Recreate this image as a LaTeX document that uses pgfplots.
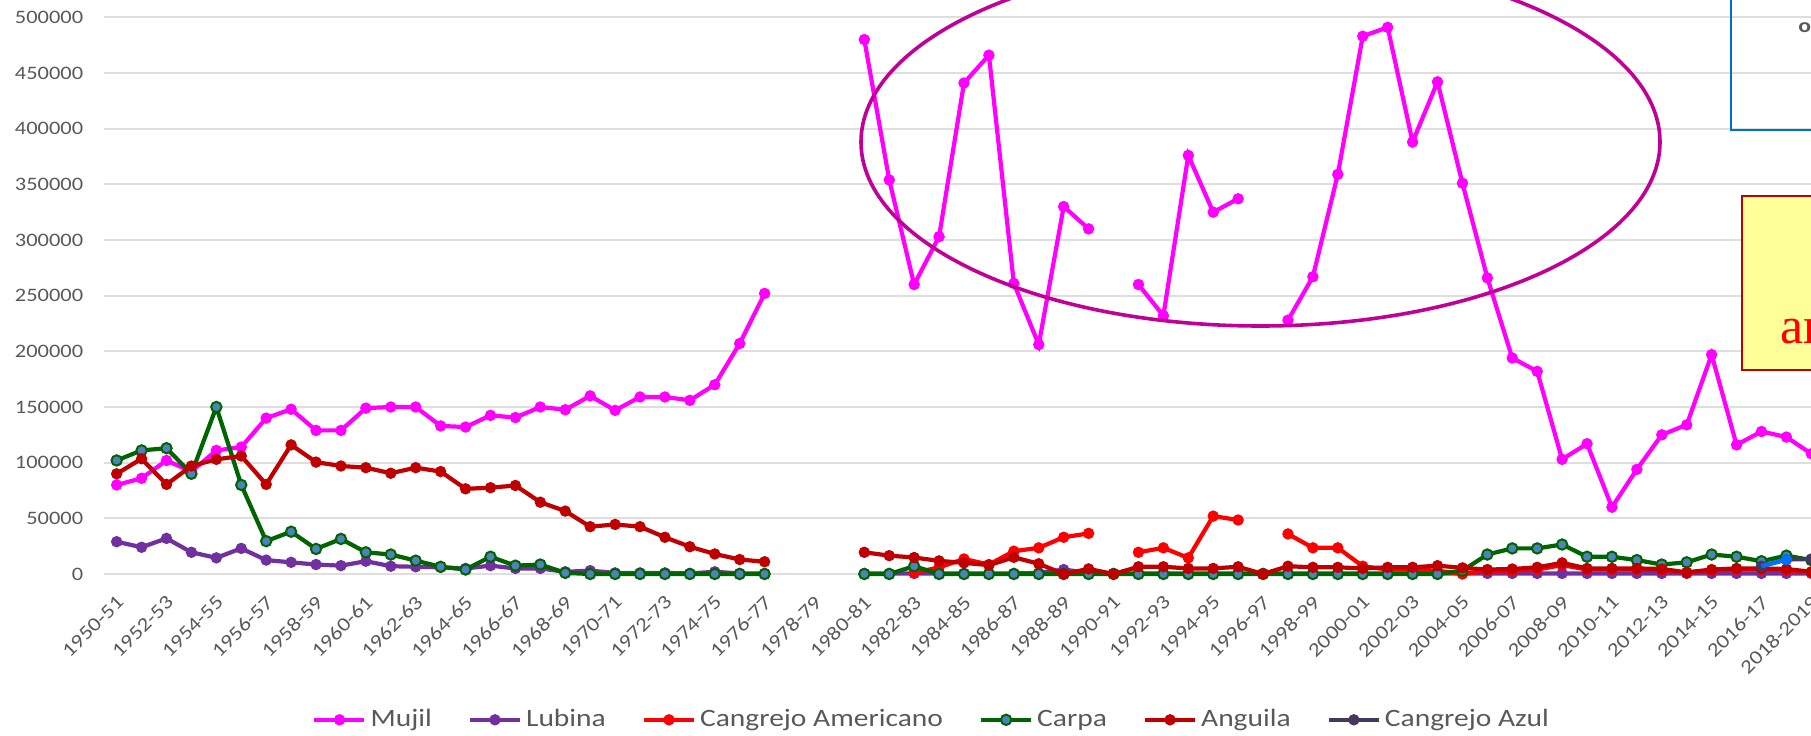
\documentclass[border=0pt]{standalone}
\usepackage{fontspec}
\setmainfont{Carlito}[FakeStretch=1.18]
\newfontfamily\serifred{Liberation Serif}
\usepackage{pgfplots}
\usepackage{pgfplotstable}
\pgfplotsset{compat=1.18}

\definecolor{mujil}{RGB}{255,0,255}
\definecolor{lubina}{RGB}{112,48,160}
\definecolor{camer}{RGB}{255,0,0}
\definecolor{carpa}{RGB}{0,100,0}
\definecolor{carpamk}{RGB}{79,129,189}
\definecolor{anguila}{RGB}{192,0,0}
\definecolor{azul}{RGB}{70,55,95}
\definecolor{azulb}{RGB}{0,112,255}
\definecolor{ell}{RGB}{192,0,150}
\definecolor{tickgray}{RGB}{89,89,89}
\definecolor{boxblue}{RGB}{0,112,192}
\definecolor{boxyellow}{RGB}{255,255,153}

\pgfplotstableread{
x mujil lubina camer carpa anguila azul
0 80000 29000 nan 102000 90000 nan
1 86000 24000 nan 111000 103500 nan
2 102000 32000 nan 113000 80500 nan
3 92000 19500 nan 90000 97000 nan
4 111000 14500 nan 150000 103000 nan
5 114000 23000 nan 80000 106000 nan
6 140000 12500 nan 29500 80500 nan
7 148000 10500 nan 38000 116000 nan
8 129000 8500 nan 22500 100500 nan
9 129000 7500 nan 31500 97000 nan
10 149000 11500 nan 19500 95500 nan
11 150000 7000 nan 17500 90500 nan
12 150000 6500 nan 12000 95500 nan
13 133000 6000 nan 6500 92000 nan
14 132000 5000 nan 4000 76500 nan
15 142500 7500 nan 15500 77500 nan
16 140500 5000 nan 7500 79500 nan
17 150000 5000 nan 8500 64500 nan
18 147500 2000 nan 1000 56500 nan
19 160000 3000 nan 0 42500 nan
20 147000 1000 nan 0 44500 nan
21 159000 1000 nan 0 42500 nan
22 159000 1000 nan 0 33000 nan
23 156000 500 nan 0 24500 nan
24 170000 2000 nan 0 18000 nan
25 207000 500 nan 0 13000 nan
26 252000 500 nan 0 11000 nan
27 nan nan nan nan nan nan
28 nan nan nan nan nan nan
29 nan nan nan nan nan nan
30 480000 500 nan 0 19500 nan
31 354000 500 nan 0 16500 nan
32 260000 500 1000 7000 14800 nan
33 303000 500 6000 0 11800 nan
34 441000 500 13500 0 10000 nan
35 466000 500 8500 0 8000 nan
36 261000 500 20500 0 15000 nan
37 206000 1000 23500 0 9200 nan
38 330000 4000 33000 0 0 nan
39 310000 1000 36500 0 4600 nan
40 nan 500 nan 0 0 nan
41 260000 500 19500 0 6500 nan
42 232000 500 23500 0 6500 nan
43 376000 500 14500 0 5000 nan
44 325000 500 52000 0 5000 nan
45 337000 500 48500 0 6500 nan
46 nan 500 nan 0 0 nan
47 228000 500 36000 0 7000 nan
48 267000 500 23500 0 6000 nan
49 359000 500 23500 0 6000 nan
50 483000 500 7000 0 5000 nan
51 491000 500 4000 0 6000 nan
52 388000 500 4000 0 6000 nan
53 442000 500 3000 0 7500 nan
54 351000 500 0 3000 5500 nan
55 266000 500 3000 17500 4000 nan
56 194000 500 3000 23000 4500 nan
57 182000 500 4000 23000 6000 nan
58 103000 500 8000 26500 10000 nan
59 117000 500 4000 15500 5000 nan
60 60000 500 4000 15500 5000 nan
61 94000 500 4000 12500 5000 nan
62 125000 500 3500 8500 4500 nan
63 134000 500 1000 10500 1500 nan
64 197000 500 3000 17500 4000 nan
65 116000 500 4000 15500 5000 nan
66 128000 500 4000 11500 5000 7000
67 123000 500 3500 16500 4500 13000
68 108000 500 1500 12500 2000 13500
}\data

\begin{document}
\begin{tikzpicture}
\begin{axis}[
  at={(52.1pt,72.5pt)}, anchor=south west,
  scale only axis, width=853.55pt, height=295pt,
  xmin=-0.5, xmax=68, ymin=-14370, ymax=515540,
  axis line style={draw=none}, tick style={draw=none},
  major tick length=0pt,
  ymajorgrids, major grid style={color=black!13, line width=1pt},
  ytick={0,50000,100000,150000,200000,250000,300000,350000,400000,450000,500000},
  yticklabels={0,50000,100000,150000,200000,250000,300000,350000,400000,450000,500000},
  xtick={0,2,...,68},
  xticklabels={1950-51,1952-53,1954-55,1956-57,1958-59,1960-61,1962-63,1964-65,1966-67,1968-69,1970-71,1972-73,1974-75,1976-77,1978-79,1980-81,1982-83,1984-85,1986-87,1988-89,1990-91,1992-93,1994-95,1996-97,1998-99,2000-01,2002-03,2004-05,2006-07,2008-09,2010-11,2012-13,2014-15,2016-17,2018-2019},
  /pgf/number format/assume math mode=true,
  xticklabel style={rotate=45, anchor=east, font=\fontsize{9.8}{10}\selectfont, text=tickgray, yshift=-4.5pt, xshift=1.5pt},
  yticklabel style={font=\fontsize{9.5}{10}\selectfont, text=tickgray, xshift=-7pt},
  unbounded coords=jump,
  clip mode=individual,
  legend columns=-1,
  legend style={at={(0.4853,-0.2200)}, anchor=center, draw=none, fill=none,
    font=\fontsize{12.5}{14}\selectfont, text=tickgray,
    /tikz/every even column/.append style={column sep=16pt}},
  legend image code/.code={\draw[mark repeat=2,mark phase=2,#1] plot coordinates {(0pt,0pt) (12.5pt,0pt) (25pt,0pt)};},
]
\addplot[color=mujil, line width=2.1pt, mark=*, mark size=2.6pt, mark options={solid, fill=mujil, line width=0.5pt}] table[x=x,y=mujil]{\data};
\addlegendentry{Mujil}
\addplot[color=lubina, line width=2.1pt, mark=*, mark size=2.6pt, mark options={solid, fill=lubina, line width=0.5pt}] table[x=x,y=lubina]{\data};
\addlegendentry{Lubina}
\addplot[color=camer, line width=2.1pt, mark=*, mark size=2.6pt, mark options={solid, fill=camer, line width=0.5pt}] table[x=x,y=camer]{\data};
\addlegendentry{Cangrejo Americano}
\addplot[color=carpa, line width=2.1pt, mark=*, mark size=2.6pt, mark options={solid, fill=carpamk, draw=carpa, line width=1pt}] table[x=x,y=carpa]{\data};
\addlegendentry{Carpa}
\addplot[color=anguila, line width=2.1pt, mark=*, mark size=2.6pt, mark options={solid, fill=anguila, line width=0.5pt}] table[x=x,y=anguila]{\data};
\addlegendentry{Anguila}
\addplot[color=azul, line width=2.1pt, mark=*, mark size=2.6pt, mark options={solid, fill=azul, line width=0.5pt}] table[x=x,y=azul]{\data};
\addlegendentry{Cangrejo Azul}
\addplot[forget plot, color=azulb, line width=2.1pt, mark=*, mark size=2.6pt, mark indices={2}, mark options={solid, fill=azulb, line width=0.5pt}] coordinates {(66,7000) (67,13000)};
\end{axis}
% annotations
\draw[ell, line width=1.8pt] (630.25pt,296.5pt) ellipse [x radius=199.75pt, y radius=92pt];
\draw[boxblue, line width=1pt] (865.5pt,302.5pt) rectangle (930pt,400pt);
\node[anchor=base west, inner sep=0pt, text=tickgray, font=\fontsize{10}{11}\selectfont\bfseries] at (899pt,351pt) {o};
\draw[anguila, line width=1.2pt, fill=boxyellow] (871pt,182.5pt) rectangle (930pt,269.5pt);
\node[anchor=base west, inner sep=0pt, text=red, font=\serifred\fontsize{26}{28}\selectfont] at (890pt,196pt) {ar};
\pgfresetboundingbox
\useasboundingbox (0,0) rectangle (905.5pt,367.5pt);
\end{tikzpicture}
\end{document}
